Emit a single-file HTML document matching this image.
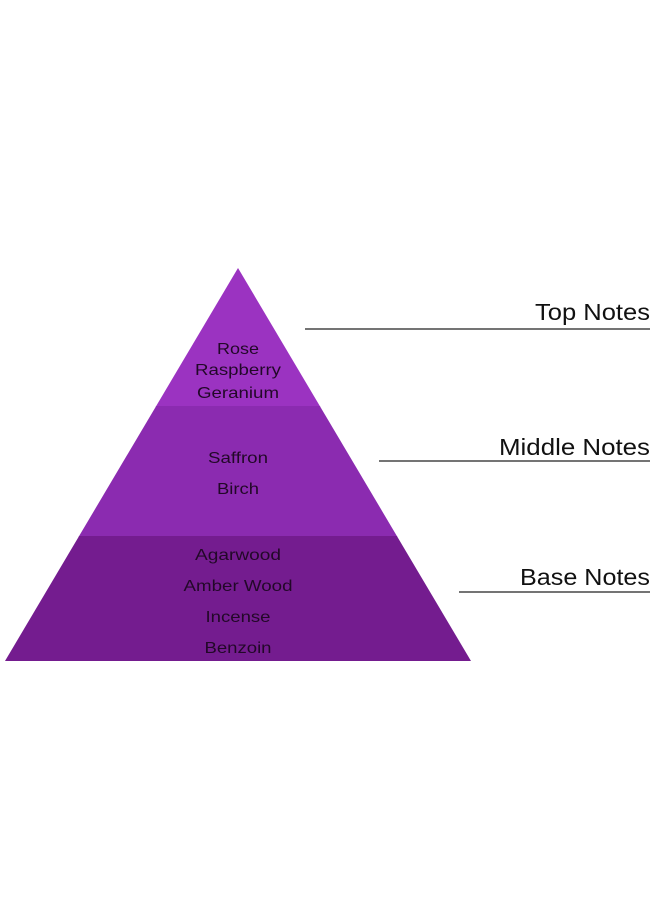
<!DOCTYPE html>
<html><head><style>
body{margin:0;width:660px;height:904px;background:#fff;overflow:hidden}
</style></head><body>
<svg width="660" height="904" xmlns="http://www.w3.org/2000/svg" font-family="Liberation Sans, sans-serif">
<defs><clipPath id="c"><polygon points="238,268 471,661 5,661"/></clipPath></defs>
<g clip-path="url(#c)">
<rect x="0" y="260" width="480" height="147" fill="#9b33c1"/>
<rect x="0" y="406" width="480" height="131" fill="#8b2bb0"/>
<rect x="0" y="536" width="480" height="130" fill="#741c8f"/>
</g>
<g fill="#220828" font-size="16" text-anchor="middle" lengthAdjust="spacingAndGlyphs">
<text x="238" y="354" textLength="42" lengthAdjust="spacingAndGlyphs">Rose</text>
<text x="238" y="375" textLength="86" lengthAdjust="spacingAndGlyphs">Raspberry</text>
<text x="238" y="398" textLength="82" lengthAdjust="spacingAndGlyphs">Geranium</text>
<text x="238" y="463" textLength="60" lengthAdjust="spacingAndGlyphs">Saffron</text>
<text x="238" y="494" textLength="42" lengthAdjust="spacingAndGlyphs">Birch</text>
<text x="238" y="560" textLength="86" lengthAdjust="spacingAndGlyphs">Agarwood</text>
<text x="238" y="591" textLength="109" lengthAdjust="spacingAndGlyphs">Amber Wood</text>
<text x="238" y="622" textLength="65" lengthAdjust="spacingAndGlyphs">Incense</text>
<text x="238" y="653" textLength="67" lengthAdjust="spacingAndGlyphs">Benzoin</text>
</g>
<g stroke="#222" stroke-width="1.2">
<line x1="305" y1="329" x2="650" y2="329"/>
<line x1="379" y1="461" x2="650" y2="461"/>
<line x1="459" y1="592" x2="650" y2="592"/>
</g>
<g fill="#111" font-size="23">
<text x="535" y="320" textLength="115" lengthAdjust="spacingAndGlyphs">Top Notes</text>
<text x="499" y="455" textLength="151" lengthAdjust="spacingAndGlyphs">Middle Notes</text>
<text x="520" y="585" textLength="130" lengthAdjust="spacingAndGlyphs">Base Notes</text>
</g>
</svg>
</body></html>
